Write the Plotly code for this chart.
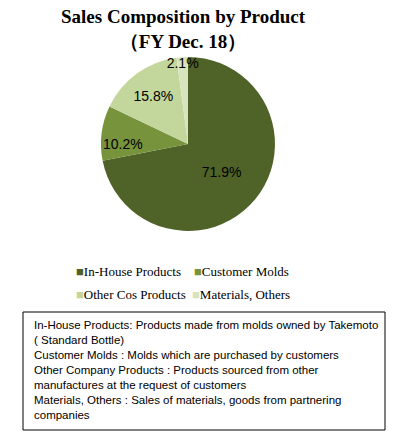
import plotly.graph_objects as go

categories = ["In-House Products", "Customer Molds", "Other Cos Products", "Materials, Others"]
shares = [71.9, 10.2, 15.8, 2.1]
colors = ["#4f6228", "#77933c", "#c3d69b", "#d7e4bd"]
title_lines = ["Sales Composition by Product", "（FY Dec. 18）"]
notes = [
    "In-House Products: Products made from molds owned by Takemoto",
    "( Standard Bottle)",
    "Customer Molds : Molds which are purchased by customers",
    "Other Company Products : Products sourced from other",
    "manufactures at the request of customers",
    "Materials, Others : Sales of materials, goods from partnering",
    "companies",
]

W, H = 393, 442
def px(x):
    return x / W
def py(y):
    return 1 - y / H

fig = go.Figure()
fig.add_trace(go.Pie(
    labels=categories,
    values=shares,
    sort=False,
    direction="clockwise",
    rotation=0,
    marker=dict(colors=colors, line=dict(width=0)),
    texttemplate="%{value:.1f}%",
    textposition="inside",
    insidetextorientation="horizontal",
    textfont=dict(family="Liberation Sans", size=14, color="black"),
    showlegend=False,
    domain=dict(x=[px(101), px(275)], y=[py(231), py(57)]),
    hoverinfo="label+value",
))

annotations = [
    dict(text="<b>" + "<br>".join(title_lines) + "</b>", x=px(183), y=py(4),
         xref="paper", yref="paper", xanchor="center", yanchor="top",
         showarrow=False, font=dict(family="Liberation Serif", size=19, color="black")),
    dict(text="<br>".join(notes), x=px(32), y=py(317), xref="paper", yref="paper",
         xanchor="left", yanchor="top", align="left", showarrow=False,
         font=dict(family="Liberation Sans", size=11.5, color="black")),
]
leg_pos = [(74, 271), (192, 271), (74, 294), (190, 294)]
for (lx, ly), cat, col in zip(leg_pos, categories, colors):
    annotations.append(dict(
        text=f"<span style='color:{col}'>■</span>{cat}", x=px(lx), y=py(ly),
        xref="paper", yref="paper", xanchor="left", yanchor="middle", showarrow=False,
        font=dict(family="Liberation Serif", size=13, color="black")))

fig.update_layout(
    width=W, height=H,
    margin=dict(l=0, r=0, t=0, b=0),
    paper_bgcolor="white", plot_bgcolor="white",
    annotations=annotations,
    uniformtext=dict(minsize=14, mode="show"),
    shapes=[dict(type="rect", xref="paper", yref="paper",
                 x0=px(23), x1=px(385), y0=py(430), y1=py(312),
                 line=dict(color="black", width=1))],
)
fig.write_html("out.html", config={"displayModeBar": False},
               post_script="document.body.style.margin='0';")
